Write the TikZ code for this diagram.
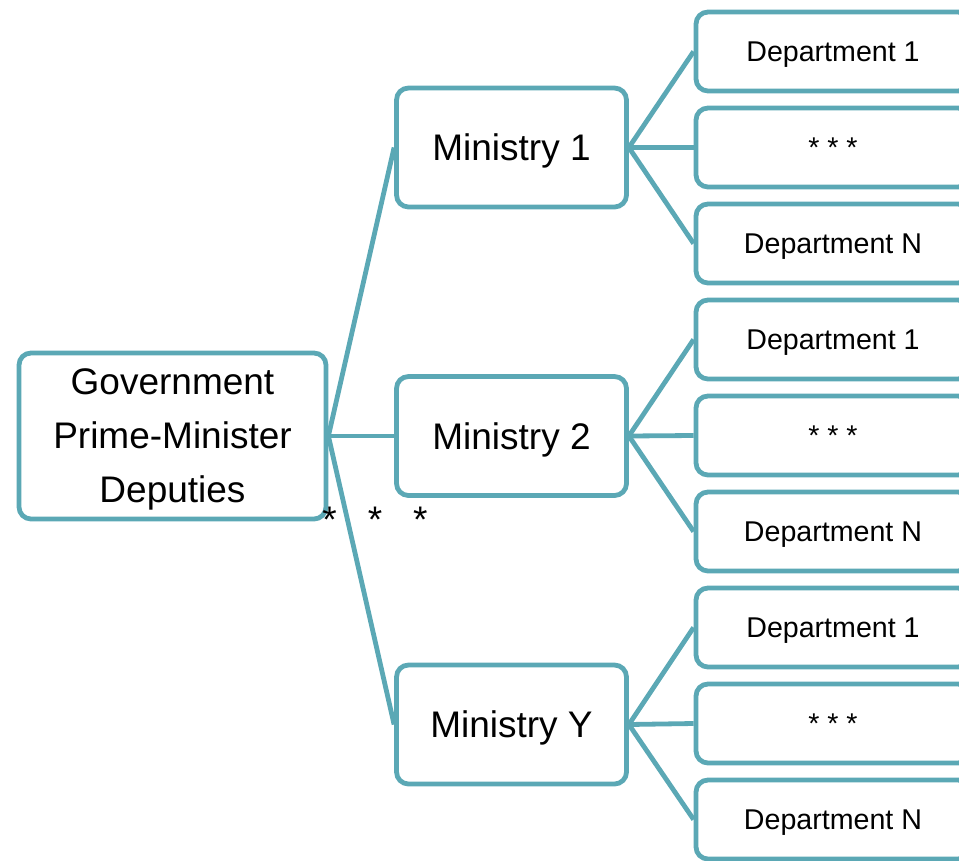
\documentclass[tikz,border=0pt]{standalone}
\usepackage{fontspec}
\setmainfont{Liberation Sans}
\definecolor{boxcol}{HTML}{5BA8B5}
\begin{document}
\begin{tikzpicture}[x=1pt,y=-1pt,
  box/.style={draw=boxcol, line width=4.8pt, rounded corners=12pt, fill=white, inner sep=0pt, align=center, text depth=0pt},
  govbox/.style={box, minimum width=307pt, minimum height=166pt, font=\fontsize{37}{54}\selectfont},
  minbox/.style={box, minimum width=230pt, minimum height=119pt, font=\fontsize{37}{44}\selectfont},
  depbox/.style={box, minimum width=274pt, minimum height=79pt, font=\fontsize{28.6}{34}\selectfont},
  link/.style={draw=boxcol, line width=4.8pt}]
\useasboundingbox (0,0) rectangle (959,860);
\clip (0,0) rectangle (959,860);

\node[govbox] (gov) at (172.5,436) {Government\\Prime-Minister\\Deputies};

\node[minbox] (m1) at (511.5,147.5) {Ministry 1};
\node[minbox] (m2) at (511.5,436) {Ministry 2};
\node[minbox] (m3) at (511.5,724.5) {Ministry Y};

\foreach \g/\y in {1/51.5, 2/339.5, 3/627.5} {
  \node[depbox] (d\g a) at (833,\y) {Department 1};
  \node[depbox] (d\g b) at (833,\y+96) {* * *};
  \node[depbox] (d\g c) at (833,\y+192) {Department N};
}

\draw[link] (gov.east) -- (m1.west);
\draw[link] (gov.east) -- (m2.west);
\draw[link] (gov.east) -- (m3.west);

\foreach \g in {1,2,3} {
  \draw[link] (m\g.east) -- (d\g a.west);
  \draw[link] (m\g.east) -- (d\g b.west);
  \draw[link] (m\g.east) -- (d\g c.west);
}

\node[anchor=base, inner sep=0pt, font=\fontsize{37}{44}\selectfont] (stars) at (375,532) {*\hspace{31pt}*\hspace{31pt}*};
\end{tikzpicture}
\end{document}
